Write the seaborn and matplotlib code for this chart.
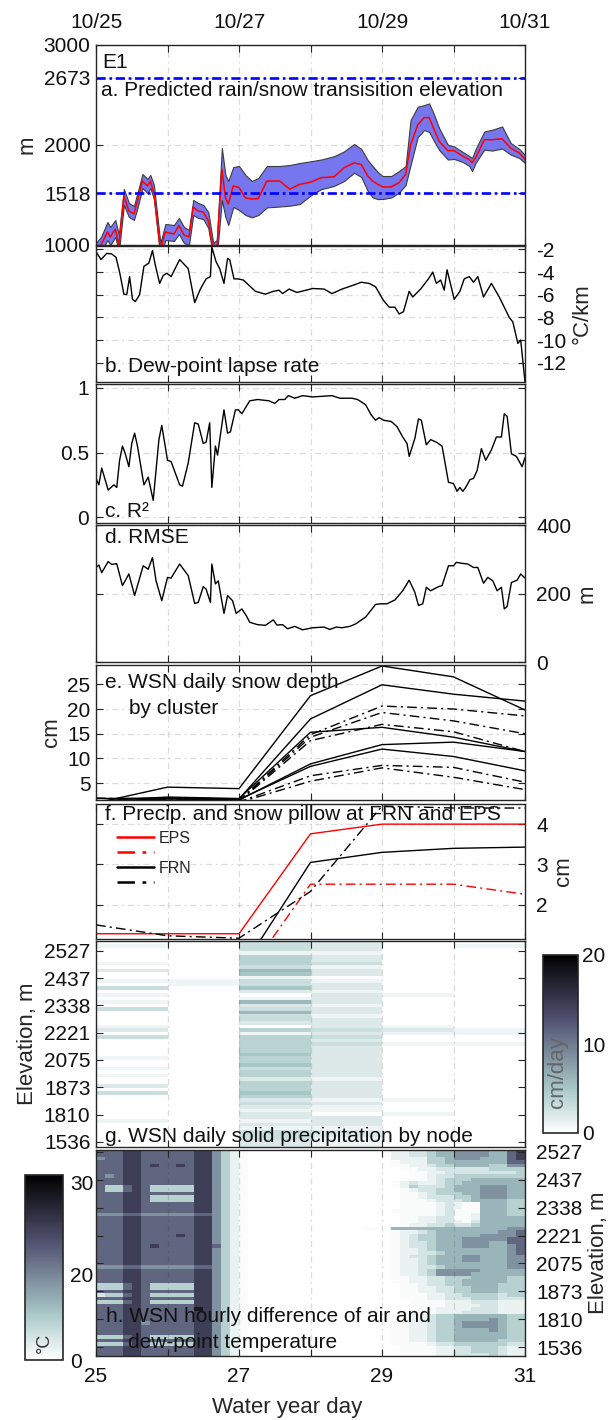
import numpy as np
import matplotlib
matplotlib.use("Agg")
import matplotlib.pyplot as plt
from matplotlib.colors import PowerNorm
import seaborn as sns

# ------------------------------------------------------------------ data
day_ticks = [25, 26, 27, 28, 29, 30, 31]
date_labels = ["10/25", "", "10/27", "", "10/29", "", "10/31"]
day_labels = ["25", "", "27", "", "29", "", "31"]

# a. predicted rain/snow transition elevation (m): median with spread
a_day = [25.00, 25.07, 25.16, 25.20, 25.27, 25.32, 25.39, 25.46, 25.53, 25.58,
         25.65, 25.72, 25.76, 25.81, 25.90, 25.97, 26.09, 26.16, 26.23, 26.30,
         26.36, 26.43, 26.50, 26.57, 26.64, 26.69, 26.76, 26.81, 26.85, 26.92,
         27.00, 27.09, 27.18, 27.27, 27.39, 27.57, 27.71, 27.85, 28.01, 28.15,
         28.33, 28.47, 28.61, 28.71, 28.80, 28.87, 28.94, 29.01, 29.13, 29.24,
         29.33, 29.40, 29.50, 29.59, 29.66, 29.73, 29.80, 29.92, 30.01, 30.13,
         30.22, 30.26, 30.31, 30.43, 30.54, 30.68, 30.80, 30.92, 31.00]
a_mid = [950, 1000, 1130, 1080, 1160, 1000, 1490, 1340, 1310, 1440,
         1640, 1590, 1640, 1520, 950, 1130, 1110, 1195, 1100, 1080,
         1380, 1340, 1330, 1245, 950, 950, 1760, 1475, 1410, 1590,
         1575, 1470, 1460, 1465, 1640, 1640, 1558, 1607, 1630, 1673,
         1683, 1772, 1822, 1805, 1690, 1640, 1607, 1581, 1581, 1624,
         1706, 2003, 2201, 2274, 2274, 2152, 2036, 1944, 1944, 1888,
         1855, 1822, 1871, 2053, 2053, 2062, 1970, 1921, 1855]
a_lo = [880, 930, 1050, 1000, 1080, 930, 1400, 1280, 1250, 1370,
        1570, 1520, 1570, 1460, 880, 1050, 1040, 1110, 1020, 1000,
        1300, 1270, 1260, 1170, 880, 880, 1450, 1280, 1200, 1380,
        1350, 1300, 1277, 1300, 1376, 1385, 1393, 1410, 1500, 1558,
        1591, 1640, 1723, 1680, 1540, 1475, 1459, 1460, 1475, 1525,
        1600, 1800, 2080, 2150, 2130, 2036, 1950, 1855, 1860, 1830,
        1790, 1739, 1822, 1954, 1944, 1965, 1904, 1870, 1820]
a_hi = [1020, 1080, 1230, 1180, 1250, 1100, 1560, 1420, 1390, 1520,
        1710, 1660, 1700, 1600, 1020, 1210, 1200, 1270, 1180, 1150,
        1450, 1420, 1400, 1330, 1020, 1050, 1970, 1700, 1640, 1780,
        1790, 1700, 1640, 1670, 1790, 1790, 1800, 1820, 1838, 1855,
        1888, 1937, 2010, 1960, 1850, 1789, 1730, 1690, 1690, 1740,
        1789, 2251, 2383, 2399, 2416, 2300, 2168, 2003, 1985, 1930,
        1890, 1871, 1960, 2135, 2152, 2185, 2020, 1960, 1900]
a_levels = [1518, 2673]
a_yticks = [1000, 1518, 2000, 2673, 3000]

# b. dew-point lapse rate (degC/km)
b_day = [25.00, 25.07, 25.15, 25.22, 25.28, 25.33, 25.39, 25.43, 25.47, 25.51,
         25.55, 25.61, 25.67, 25.74, 25.79, 25.83, 25.89, 25.94, 25.99, 26.05,
         26.17, 26.29, 26.38, 26.46, 26.54, 26.60, 26.62, 26.68, 26.73, 26.79,
         26.84, 26.87, 26.93, 26.98, 27.06, 27.23, 27.37, 27.48, 27.56, 27.61,
         27.70, 27.81, 28.03, 28.19, 28.30, 28.44, 28.58, 28.71, 28.82, 28.91,
         29.02, 29.10, 29.18, 29.24, 29.30, 29.38, 29.43, 29.54, 29.65, 29.71,
         29.76, 29.82, 29.87, 29.91, 30.01, 30.09, 30.15, 30.22, 30.28, 30.34,
         30.42, 30.53, 30.64, 30.78, 30.83, 30.90, 30.94, 31.00]
b_rate = [-2.2, -2.9, -2.35, -2.4, -2.7, -4.0, -5.95, -6.0, -4.4, -6.4,
          -6.6, -6.0, -3.5, -3.2, -2.1, -3.4, -5.0, -4.3, -4.1, -4.4,
          -2.9, -3.7, -6.7, -5.5, -4.6, -4.4, -1.8, -3.1, -3.7, -5.0,
          -2.8, -2.9, -4.6, -4.6, -4.7, -5.7, -5.95, -5.7, -5.6, -5.9,
          -5.5, -5.8, -5.45, -5.5, -5.9, -5.5, -5.2, -4.9, -5.0, -5.3,
          -6.5, -7.1, -7.1, -7.7, -7.5, -5.7, -6.2, -5.5, -4.6, -4.0,
          -5.0, -4.7, -5.6, -3.8, -6.4, -5.7, -4.6, -4.4, -4.9, -4.4,
          -6.2, -5.0, -6.2, -8.0, -8.4, -10.3, -10.0, -13.7]

# c. coefficient of determination
c_day = [25.00, 25.04, 25.08, 25.17, 25.25, 25.29, 25.33, 25.37, 25.41, 25.46,
         25.50, 25.54, 25.58, 25.67, 25.73, 25.80, 25.88, 25.92, 26.00, 26.05,
         26.17, 26.21, 26.29, 26.38, 26.43, 26.50, 26.54, 26.59, 26.62, 26.67,
         26.70, 26.79, 26.84, 26.88, 26.95, 26.99, 27.04, 27.15, 27.26, 27.42,
         27.50, 27.56, 27.64, 27.69, 27.78, 27.89, 28.03, 28.30, 28.41, 28.58,
         28.66, 28.77, 28.85, 28.91, 28.96, 29.02, 29.13, 29.21, 29.29, 29.35,
         29.38, 29.46, 29.51, 29.55, 29.62, 29.68, 29.76, 29.84, 29.93, 30.00,
         30.05, 30.09, 30.13, 30.17, 30.23, 30.28, 30.33, 30.39, 30.45, 30.53,
         30.60, 30.67, 30.71, 30.75, 30.81, 30.88, 30.96, 31.00]
c_r2 = [0.30, 0.25, 0.38, 0.21, 0.25, 0.23, 0.44, 0.55, 0.49, 0.39,
        0.57, 0.65, 0.55, 0.25, 0.31, 0.13, 0.60, 0.71, 0.44, 0.43,
        0.25, 0.24, 0.42, 0.73, 0.72, 0.57, 0.58, 0.73, 0.23, 0.55,
        0.48, 0.83, 0.65, 0.66, 0.83, 0.83, 0.80, 0.90, 0.91, 0.90,
        0.88, 0.91, 0.91, 0.94, 0.92, 0.94, 0.93, 0.94, 0.92, 0.92,
        0.91, 0.87, 0.79, 0.75, 0.77, 0.75, 0.74, 0.70, 0.62, 0.57,
        0.47, 0.61, 0.76, 0.75, 0.56, 0.60, 0.58, 0.55, 0.27, 0.26,
        0.20, 0.23, 0.20, 0.23, 0.29, 0.30, 0.36, 0.53, 0.44, 0.52,
        0.62, 0.62, 0.80, 0.78, 0.49, 0.47, 0.39, 0.46]

# d. root-mean-square error (m)
d_day = [25.00, 25.04, 25.08, 25.17, 25.22, 25.29, 25.37, 25.46, 25.54, 25.66,
         25.73, 25.79, 25.84, 25.92, 26.00, 26.05, 26.17, 26.29, 26.38, 26.43,
         26.50, 26.54, 26.60, 26.62, 26.67, 26.71, 26.79, 26.84, 26.91, 26.96,
         27.04, 27.10, 27.15, 27.26, 27.37, 27.48, 27.53, 27.61, 27.68, 27.78,
         27.89, 28.03, 28.19, 28.27, 28.36, 28.44, 28.55, 28.63, 28.77, 28.85,
         28.91, 28.99, 29.07, 29.18, 29.29, 29.38, 29.46, 29.51, 29.57, 29.62,
         29.68, 29.79, 29.84, 29.93, 30.00, 30.04, 30.12, 30.20, 30.28, 30.34,
         30.42, 30.48, 30.55, 30.61, 30.67, 30.71, 30.75, 30.81, 30.89, 30.94,
         31.00]
d_rmse = [276, 283, 261, 293, 285, 287, 223, 257, 194, 281,
          271, 305, 237, 179, 247, 245, 286, 252, 171, 174,
          220, 213, 174, 286, 228, 237, 142, 194, 179, 142,
          155, 136, 116, 109, 107, 123, 108, 109, 97, 104,
          94, 100, 102, 95, 102, 100, 104, 111, 131, 152,
          168, 170, 170, 181, 208, 239, 203, 165, 170, 218,
          208, 220, 223, 281, 281, 291, 288, 286, 276, 276,
          230, 247, 237, 208, 218, 155, 162, 232, 239, 257,
          245]

# e. WSN daily snow depth by cluster (cm)
e_day = [25, 26, 27, 28, 29, 30, 31]
e_solid = [[1.0, 4.2, 3.9, 22.7, 28.7, 26.5, 19.8],
           [1.9, 2.0, 1.8, 18.0, 24.9, 23.0, 21.6],
           [1.4, 2.2, 1.9, 15.3, 16.3, 14.3, 11.4],
           [1.2, 1.8, 1.6, 8.9, 12.8, 13.3, 11.4],
           [1.2, 1.9, 1.7, 8.4, 11.9, 10.4, 7.5]]
e_dashed = [[2.0, 1.6, 1.5, 14.8, 20.6, 20.0, 18.6],
            [1.3, 1.5, 1.4, 14.3, 19.3, 17.6, 15.0],
            [1.3, 1.5, 1.3, 13.6, 16.9, 15.4, 11.4],
            [1.0, 1.5, 1.2, 6.5, 8.6, 8.2, 5.2],
            [0.9, 1.4, 1.1, 5.4, 8.1, 6.2, 3.7]]

# f. precipitation and snow pillow at FRN and EPS (cm)
f_day = [25, 26, 27, 28, 29, 30, 31]
eps_precip = [1.28, 1.28, 1.28, 3.76, 4.0, 4.0, 4.0]
eps_pillow = [0.0, 0.0, 0.0, 2.51, 2.51, 2.51, 2.26]
frn_precip = [0.3, 0.3, 0.3, 3.05, 3.3, 3.4, 3.43]
frn_pillow = [1.5, 1.23, 1.17, 2.33, 4.45, 4.4, 4.4]

node_labels = ["2527", "2437", "2338", "2221", "2075", "1873", "1810", "1536"]

# g. daily solid precipitation by node (cm/day); one digit per day, 25 -> 30
g_rows = ["003200", "103201", "003200", "001100", "004200", "004200", "104300",
          "003100", "206200", "005200", "001000", "113100", "013200", "305200",
          "002100", "100210", "001200", "106200", "002100", "303200", "006200",
          "003100", "003200", "002200", "100210", "204321", "001211", "304300",
          "004200", "004311", "004200", "004200", "005200", "104200", "004200",
          "005200", "103200", "004200", "104200", "002100", "004200", "204200",
          "004200", "305200", "004200", "002110", "003200", "002100", "001100",
          "002010", "002200", "101200", "002200", "001100", "003200", "003200",
          "003100", "002100", "002100"]

# h. hourly air minus dew-point temperature; 3-hour blocks (8 per day),
#    each digit is a step of 3.2 degC
h_step = 3.2
h_rows = [
    "77788777 77788642 10000000 00000000 12233455 66665578",
    "77788777 77788642 10000000 00000000 12233455 66665578",
    "67788777 77788642 10000000 00000000 02222445 66655578",
    "77788777 77788642 10000000 00000000 01222445 55555577",
    "77788787 78788642 10000000 00000000 01122344 55554466",
    "77788777 77788642 10000000 00000000 00112233 33334444",
    "77788777 77788642 10000000 00000000 00011223 33333334",
    "76788777 77788642 10000000 00000000 00011233 44444444",
    "77788777 77788642 10000000 00000000 00111234 44555555",
    "77788777 77788642 10000000 00000000 01232234 45555555",
    "74478744 44488642 10000000 00000000 01243334 55566655",
    "74478744 44488642 10000000 00000000 00123344 55566655",
    "77788777 77788642 10000000 00000000 00112344 45566655",
    "77788744 44488642 10000000 00000000 00112333 44566655",
    "77788744 44488642 10000000 00000000 00111233 34555544",
    "77788777 77788642 10000000 00000000 00111123 21155544",
    "77788777 77788642 10000000 00000000 00111123 21155544",
    "77788777 77788642 10000000 00000000 01111123 11155544",
    "66677666 66677642 10000000 00000000 00111123 11255544",
    "77788777 77788642 10000000 00000000 00112233 11255555",
    "77788777 77788642 10000000 00000000 00112233 21355555",
    "77788777 77788642 10000000 00000000 00122334 33455555",
    "77788777 77788642 10000000 00000011 05555555 55555566",
    "77788777 77788642 10000000 00000000 01223455 55555667",
    "77788777 78788642 10000000 00000000 01234455 55566667",
    "77788777 77788642 10000000 00000000 01234455 56666677",
    "77788777 77788642 10000000 00000000 01233455 56665577",
    "77788787 77788742 10000000 00000000 01233455 56665567",
    "77788777 77788642 10000000 00000000 01223455 55555567",
    "77788777 77788642 10000000 00000000 01223345 55555567",
    "77788777 77788642 10000000 00000000 01233455 56655566",
    "77788777 77788642 10000000 00000000 01223455 56655566",
    "77788777 77788642 10000000 00000000 01223455 55555566",
    "66677666 66677642 10000000 00000000 01223345 55555566",
    "77788777 77788642 10000000 00000000 01223466 66655555",
    "77788777 77788642 10000000 00000000 01223466 66555555",
    "77788777 77788642 10000000 00000000 01122334 44555544",
    "77788777 77788642 10000000 00000000 01122334 45555544",
    "44478744 44488642 10000000 00000000 00112334 45555444",
    "44478744 44488642 10000000 00000000 00112233 44555444",
    "77788777 77788642 10000000 00000000 00112233 44555444",
    "34478744 44488642 10000000 00000000 00111223 34444344",
    "77788777 77788642 10000000 00000000 00111223 33444333",
    "44478744 44488642 10000000 00000000 00011112 22333222",
    "77788777 77788642 10000000 00000000 00011112 22233222",
    "77788777 77798642 10000000 00000000 00011122 22333222",
    "77788777 77788642 10000000 00000000 00011122 23333222",
    "77788777 77788642 10000000 00000000 01122344 55555544",
    "77788777 77788642 10000000 00000000 01122344 55556544",
    "77788677 77788642 10000000 00000000 01122344 56666544",
    "77788777 77788642 10000000 00000000 01122344 56666544",
    "77788777 77788642 10000000 00000000 01122344 55556544",
    "77788777 77788642 10000000 00000000 01122344 55555544",
    "44478744 44488642 10000000 00000000 01122344 55555544",
    "77788777 77788642 10000000 00000000 01122344 55555444",
    "44478744 44488642 10000000 00000000 01111233 44444433",
    "77788777 77788642 10000000 00000000 00111122 33444322",
    "77788777 77788642 10000000 00000000 00111122 33444322",
    "77788777 77788642 10000000 00000000 00111122 33334322",
]

g_grid = np.array([[float(ch) for ch in r] for r in g_rows])
h_grid = np.array([[float(ch) for ch in r.replace(" ", "")] for r in h_rows]) * h_step

# ------------------------------------------------------------------ style
sns.set_theme(style="white")
plt.rcParams["font.family"] = ["Liberation Sans", "DejaVu Sans"]
plt.rcParams["axes.unicode_minus"] = False

INK = "#262626"
GRID_KW = dict(color=INK, alpha=0.16, linewidth=0.9, linestyle=(0, (5, 3, 1.5, 3)))
DASHDOT = (0, (7, 3, 1.5, 3))
FS = 15

W, H = 612, 1420
fig = plt.figure(figsize=(W / 100, H / 100), dpi=100)


def add_axes(left, top, right, bottom):
    return fig.add_axes([left / W, 1 - bottom / H, (right - left) / W, (bottom - top) / H])


def frame(ax, ypad=4, xpad=8, **labels):
    for sp in ax.spines.values():
        sp.set_visible(True)
        sp.set_color(INK)
        sp.set_linewidth(1.0)
    flags = dict(labelleft=False, labelright=False, labeltop=False, labelbottom=False)
    flags.update(labels)
    ax.tick_params(direction="in", length=5, width=0.8, color=INK,
                   left=True, right=True, top=True, bottom=True,
                   labelsize=FS, labelcolor="#111111", **flags)
    ax.tick_params(axis="y", pad=ypad)
    ax.tick_params(axis="x", pad=xpad)


def tag(x_px, y_px, s, size=FS):
    fig.text(x_px / W, 1 - y_px / H, s, fontsize=size, ha="left", va="center", color="#111111")


def day_axis(ax):
    ax.set_xlim(25, 31)
    ax.set_xticks(day_ticks)
    ax.grid(True, **GRID_KW)


L, R = 96, 525

# a. transition elevation
ax = add_axes(L, 45, R, 245)
ax.fill_between(a_day, a_lo, a_hi, facecolor="#7676ee", edgecolor="#3c3c3c", linewidth=0.8)
sns.lineplot(x=a_day, y=a_mid, ax=ax, color="#ff0000", linewidth=1.1, estimator=None, sort=False)
for lev in a_levels:
    ax.axhline(lev, color="#0000ff", linewidth=1.9, linestyle=(0, (3.5, 1.4, 1.0, 1.4)))
day_axis(ax)
ax.set_xticklabels(date_labels)
ax.set_ylim(1000, 3000)
ax.set_yticks(a_yticks)
ax.set_ylabel("m", fontsize=FS + 1)
frame(ax, ypad=4, xpad=9, labelleft=True, labeltop=True)

# b. dew-point lapse rate
ax = add_axes(L, 246, R, 382)
sns.lineplot(x=b_day, y=b_rate, ax=ax, color="black", linewidth=1.0, estimator=None, sort=False)
day_axis(ax)
ax.set_ylim(-13.7, -1.7)
ax.set_yticks([-12, -10, -8, -6, -4, -2])
ax.yaxis.set_label_position("right")
ax.set_ylabel("°C/km", fontsize=FS + 1)
frame(ax, ypad=8, labelright=True)

# c. R squared
ax = add_axes(L, 384, R, 523)
sns.lineplot(x=c_day, y=c_r2, ax=ax, color="black", linewidth=1.0, estimator=None, sort=False)
day_axis(ax)
ax.set_ylim(-0.045, 1.03)
ax.set_yticks([0, 0.5, 1])
ax.set_yticklabels(["0", "0.5", "1"])
frame(ax, ypad=5, labelleft=True)

# d. RMSE
ax = add_axes(L, 525, R, 662)
sns.lineplot(x=d_day, y=d_rmse, ax=ax, color="black", linewidth=1.0, estimator=None, sort=False)
day_axis(ax)
ax.set_ylim(0, 400)
ax.set_yticks([0, 200, 400])
ax.yaxis.set_label_position("right")
ax.set_ylabel("m", fontsize=FS + 1)
frame(ax, ypad=8, labelright=True)

# e. snow depth by cluster
ax = add_axes(L, 665, R, 800)
for ser in e_solid:
    sns.lineplot(x=e_day, y=ser, ax=ax, color="black", linewidth=1.0, estimator=None, sort=False)
for ser in e_dashed:
    sns.lineplot(x=e_day, y=ser, ax=ax, color="black", linewidth=1.0, linestyle=DASHDOT,
                 estimator=None, sort=False)
day_axis(ax)
ax.set_ylim(1.6, 28.9)
ax.set_yticks([5, 10, 15, 20, 25])
ax.set_ylabel("cm", fontsize=FS + 1)
frame(ax, ypad=4, labelleft=True)

# f. precipitation and snow pillow
ax = add_axes(L, 804, R, 939)
f_series = [(eps_precip, "#ff0000", "-"), (eps_pillow, "#ff0000", DASHDOT),
            (frn_precip, "black", "-"), (frn_pillow, "black", DASHDOT)]
for vals, col, ls in f_series:
    sns.lineplot(x=f_day, y=vals, ax=ax, color=col, linewidth=1.0, linestyle=ls,
                 estimator=None, sort=False)
day_axis(ax)
ax.set_ylim(1.15, 4.5)
ax.set_yticks([2, 3, 4])
ax.yaxis.set_label_position("right")
ax.set_ylabel("cm", fontsize=FS + 1)
handles = list(ax.lines[:4])
leg = ax.legend(handles, ["EPS", "", "FRN", ""], loc="upper left", bbox_to_anchor=(0.05, 0.80),
                frameon=False, fontsize=11.5, handlelength=2.3, handletextpad=0.3,
                labelspacing=0.0, borderaxespad=0, borderpad=0)
for ln in leg.get_lines():
    ln.set_linewidth(1.8)
frame(ax, ypad=8, labelright=True)

# g. daily solid precipitation heatmap
axg = add_axes(L, 941, R, 1147)
caxg = add_axes(543, 955, 578, 1133)
sns.heatmap(g_grid, ax=axg, cmap="bone_r", vmin=0, vmax=20, cbar_ax=caxg,
            xticklabels=False, yticklabels=False, cbar_kws={"ticks": [0, 10, 20]})
axg.set_xticks(range(len(day_ticks)))
axg.set_yticks(np.linspace(2.85, 57.5, len(node_labels)))
axg.set_yticklabels(node_labels)
axg.set_ylabel("Elevation, m", fontsize=FS + 1)
axg.grid(True, axis="x", **GRID_KW)
axg.set_axisbelow(False)
frame(axg, ypad=4, labelleft=True)
cbg = axg.collections[0].colorbar
cbg.outline.set_visible(True)
cbg.outline.set_linewidth(1.2)
cbg.outline.set_edgecolor(INK)
caxg.tick_params(labelsize=FS, length=0, pad=3, labelcolor="#111111")
caxg.text(0.42, 0.34, "cm/day", rotation=90, transform=caxg.transAxes, ha="center",
          va="center", fontsize=FS + 1, color="#666666")

# h. hourly air minus dew-point temperature heatmap
axh = add_axes(L, 1150, R, 1356)
caxh = add_axes(25, 1175, 63, 1360)
sns.heatmap(h_grid, ax=axh, cmap="bone_r", norm=PowerNorm(gamma=1.8, vmin=0, vmax=30.7),
            cbar_ax=caxh, xticklabels=False, yticklabels=False,
            cbar_kws={"ticks": [0, 20, 30]})
n_cols = h_grid.shape[1]
axh.set_xticks(np.linspace(0, n_cols, len(day_ticks)))
axh.set_xticklabels(day_labels)
axh.set_yticks(np.arange(0.5, h_grid.shape[0], 8))
axh.set_yticklabels(node_labels)
axh.yaxis.set_label_position("right")
axh.set_ylabel("Elevation, m", fontsize=FS + 1)
axh.set_xlabel("Water year day", fontsize=FS + 1)
axh.grid(True, axis="x", **GRID_KW)
axh.set_axisbelow(False)
frame(axh, ypad=8, xpad=8, labelright=True, labelbottom=True)
axh.xaxis.set_label_coords(0.445, -0.2)
cbh = axh.collections[0].colorbar
cbh.outline.set_visible(True)
cbh.outline.set_linewidth(1.2)
cbh.outline.set_edgecolor(INK)
caxh.tick_params(labelsize=FS, length=0, pad=5, labelcolor="#111111")
caxh.text(0.5, 0.09, "°C", rotation=90, transform=caxh.transAxes, ha="center",
          va="center", fontsize=13, color="#333333")

# panel captions
tag(102, 63, "E1")
tag(101, 90, "a. Predicted rain/snow transisition elevation")
tag(105, 367, "b. Dew-point lapse rate")
tag(105, 511, "c. R²")
tag(105, 538, "d. RMSE")
tag(105, 683, "e. WSN daily snow depth")
tag(129, 709, "by cluster")
tag(105, 815, "f. Precip. and snow pillow at FRN and EPS")
tag(105, 1136, "g. WSN daily solid precipitation by node")
tag(106, 1316, "h. WSN hourly difference of air and")
tag(128, 1342, "dew-point temperature")

fig.savefig("out.png", dpi=100)
